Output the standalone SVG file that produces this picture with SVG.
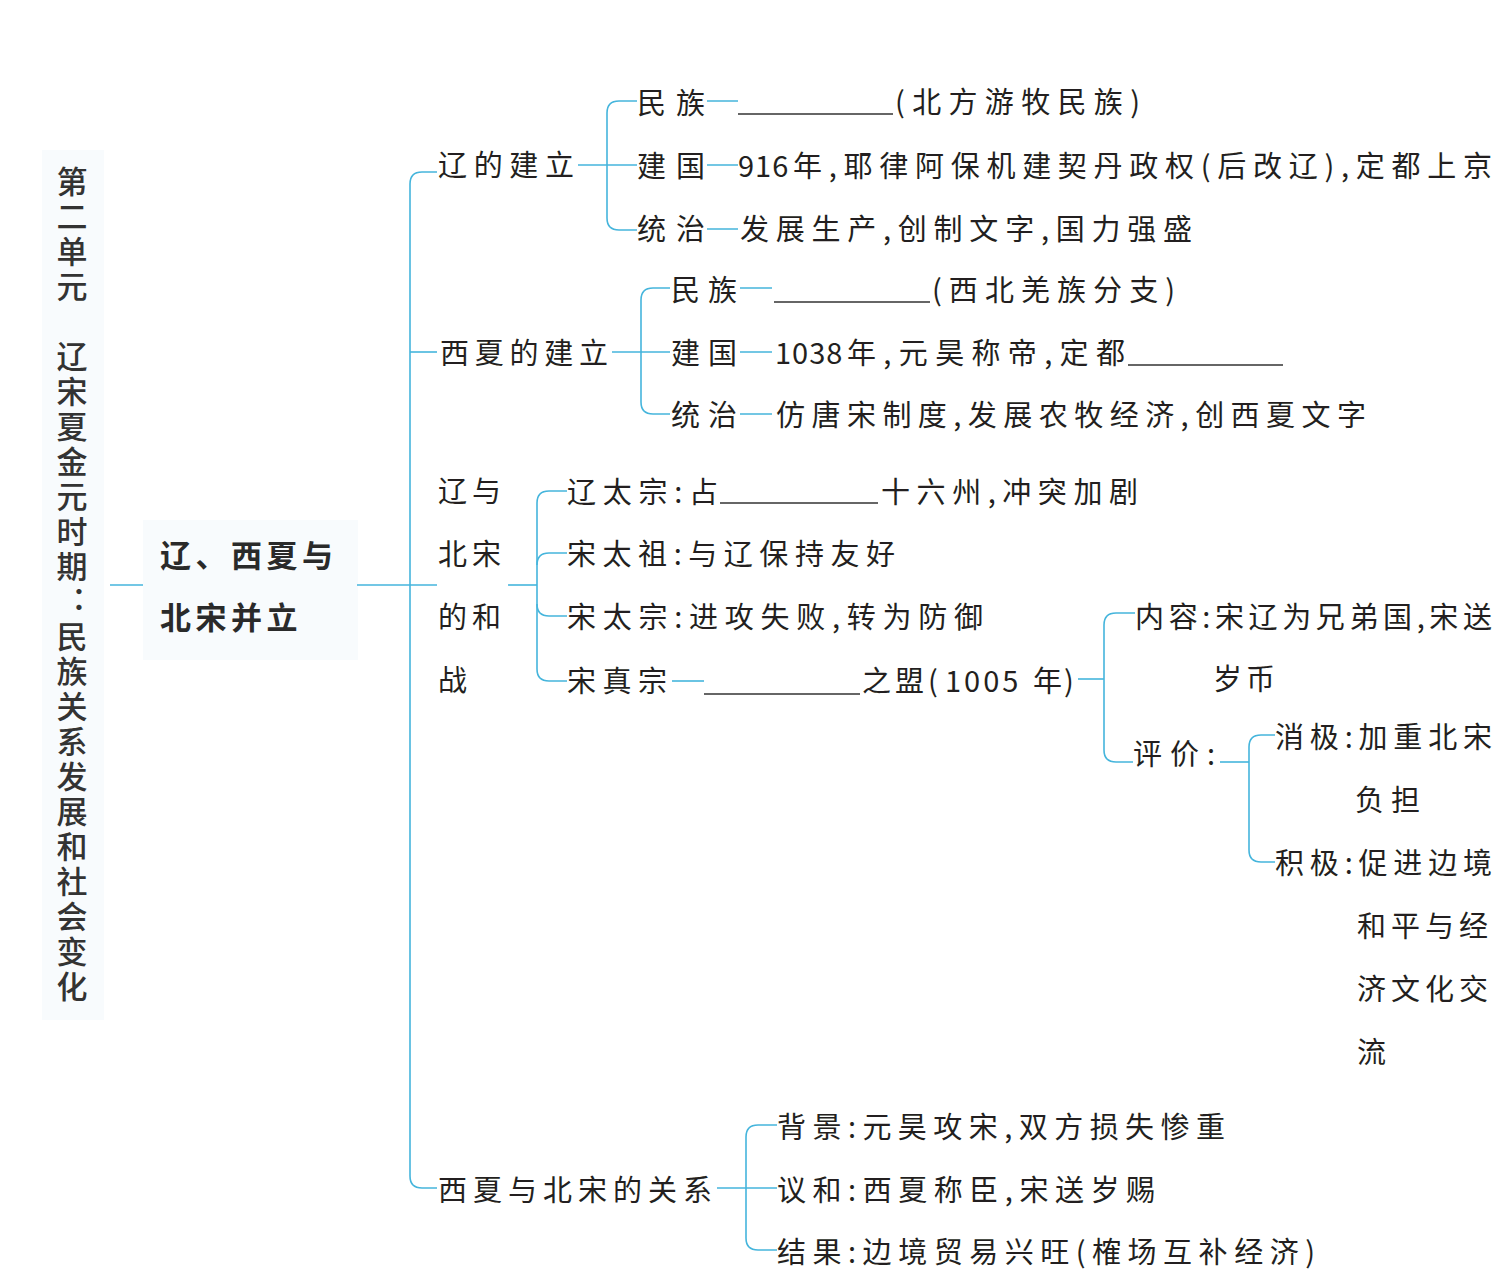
<svg xmlns="http://www.w3.org/2000/svg" width="1509" height="1278" viewBox="0 0 1509 1278">
<style>
text{font-family:"Noto Sans CJK SC","Noto Sans",sans-serif;fill:#231f20;font-size:29px;dominant-baseline:central}
.t{font-size:31px;font-weight:500;fill:#333;writing-mode:vertical-rl}
.c{font-size:31px;font-weight:700;fill:#2a2a2a}
.ln{fill:none;stroke:#45b5dc;stroke-width:1.6}
.ul{stroke:#333;stroke-width:1.5}
.bg{fill:#f8fbfd}
</style>
<rect width="1509" height="1278" fill="#fff"/>
<rect class="bg" x="42" y="150" width="62" height="870"/>
<rect class="bg" x="143" y="520" width="215" height="140"/>

<g id="connectors">
<path class="ln" d="M110,585H143"/>
<path class="ln" d="M357,585H437"/>
<path class="ln" d="M437,172H422Q410,172 410,184V1176Q410,1188 422,1188H437"/>
<path class="ln" d="M410,352H437"/>
<path class="ln" d="M637,101H619Q607,101 607,113V218Q607,230 619,230H637"/>
<path class="ln" d="M578,165H637"/>
<path class="ln" d="M707,101H738M707,165H738M707,229H738"/>
<path class="ln" d="M670,288H653Q641,288 641,300V402Q641,414 653,414H670"/>
<path class="ln" d="M612,352H670"/>
<path class="ln" d="M740,288H772M740,352H772M740,414H772"/>
<path class="ln" d="M567,491H549Q537,491 537,503V669Q537,681 549,681H567"/>
<path class="ln" d="M537,565Q537,553 549,553H567"/>
<path class="ln" d="M537,604Q537,616 549,616H567"/>
<path class="ln" d="M508,585H537"/>
<path class="ln" d="M672,681H704"/>
<path class="ln" d="M1078,679H1104"/>
<path class="ln" d="M1135,613H1116Q1104,613 1104,625V750Q1104,762 1116,762H1133"/>
<path class="ln" d="M1220,762H1249"/>
<path class="ln" d="M1275,735H1261Q1249,735 1249,747V850Q1249,862 1261,862H1275"/>
<path class="ln" d="M777,1125H758Q746,1125 746,1137V1238Q746,1250 758,1250H777"/>
<path class="ln" d="M717,1188H777"/>
</g>

<g id="title">
<text class="t" x="72" y="166" letter-spacing="4">第二单元　辽宋夏金元时期：民族关系发展和社会变化</text>
</g>

<g id="center">
<text class="c"><tspan x="160" y="553" letter-spacing="4.5">辽、西夏与</tspan><tspan x="160" y="615" letter-spacing="4.5">北宋并立</tspan></text>
</g>

<g id="liao">
<text x="438" y="163" textLength="136" lengthAdjust="spacing">辽的建立</text>
</g>
<g id="liao-minzu">
<text x="637" y="101" textLength="68" lengthAdjust="spacing">民族</text>
<line class="ul" x1="738" y1="114" x2="893" y2="114"/>
<text x="895" y="100" textLength="245" lengthAdjust="spacing">(北方游牧民族)</text>
</g>
<g id="liao-jianguo">
<text x="637" y="164" textLength="68" lengthAdjust="spacing">建国</text>
<text y="164"><tspan x="738" letter-spacing="1">916</tspan></text>
<text x="793" y="164" textLength="699" lengthAdjust="spacing">年,耶律阿保机建契丹政权(后改辽),定都上京</text>
</g>
<g id="liao-tongzhi">
<text x="637" y="227" textLength="68" lengthAdjust="spacing">统治</text>
<text x="740" y="227" textLength="452" lengthAdjust="spacing">发展生产,创制文字,国力强盛</text>
</g>

<g id="xixia">
<text x="440" y="351" textLength="168" lengthAdjust="spacing">西夏的建立</text>
</g>
<g id="xixia-minzu">
<text x="671" y="288" textLength="66" lengthAdjust="spacing">民族</text>
<line class="ul" x1="774" y1="302" x2="930" y2="302"/>
<text x="932" y="288" textLength="243" lengthAdjust="spacing">(西北羌族分支)</text>
</g>
<g id="xixia-jianguo">
<text x="671" y="351" textLength="66" lengthAdjust="spacing">建国</text>
<text y="351"><tspan x="775" letter-spacing="1">1038</tspan></text>
<text x="847" y="351" textLength="278" lengthAdjust="spacing">年,元昊称帝,定都</text>
<line class="ul" x1="1128" y1="365" x2="1283" y2="365"/>
</g>
<g id="xixia-tongzhi">
<text x="671" y="413" textLength="66" lengthAdjust="spacing">统治</text>
<text x="776" y="413" textLength="590" lengthAdjust="spacing">仿唐宋制度,发展农牧经济,创西夏文字</text>
</g>

<g id="liao-song">
<text letter-spacing="5"><tspan x="438" y="489">辽与</tspan><tspan x="438" y="552">北宋</tspan><tspan x="438" y="615">的和</tspan><tspan x="438" y="678">战</tspan></text>
</g>
<g id="liao-taizong">
<text x="567" y="490" textLength="151" lengthAdjust="spacing">辽太宗:占</text>
<line class="ul" x1="720" y1="503" x2="878" y2="503"/>
<text x="881" y="490" textLength="257" lengthAdjust="spacing">十六州,冲突加剧</text>
</g>
<g id="song-taizu">
<text x="567" y="552" textLength="328" lengthAdjust="spacing">宋太祖:与辽保持友好</text>
</g>
<g id="song-taizong">
<text x="567" y="615" textLength="416" lengthAdjust="spacing">宋太宗:进攻失败,转为防御</text>
</g>
<g id="song-zhenzong">
<text x="567" y="679" textLength="100" lengthAdjust="spacing">宋真宗</text>
<line class="ul" x1="704" y1="694" x2="860" y2="694"/>
<text y="679"><tspan x="862" letter-spacing="4">之盟(</tspan><tspan x="945" letter-spacing="3">1005</tspan><tspan x="1033">年</tspan><tspan x="1064">)</tspan></text>
</g>
<g id="neirong">
<text x="1135" y="615" textLength="357" lengthAdjust="spacing">内容:宋辽为兄弟国,宋送</text>
<text x="1213" y="677" textLength="62" lengthAdjust="spacing">岁币</text>
</g>
<g id="pingjia">
<text x="1133" y="752" textLength="82" lengthAdjust="spacing">评价:</text>
</g>
<g id="xiaoji">
<text x="1275" y="735" textLength="217" lengthAdjust="spacing">消极:加重北宋</text>
<text x="1355" y="798" textLength="65" lengthAdjust="spacing">负担</text>
</g>
<g id="jiji">
<text x="1275" y="861" textLength="217" lengthAdjust="spacing">积极:促进边境</text>
<text letter-spacing="5"><tspan x="1357" y="924">和平与经</tspan><tspan x="1357" y="987">济文化交</tspan><tspan x="1357" y="1050">流</tspan></text>
</g>

<g id="xixia-song">
<text x="438" y="1188" textLength="274" lengthAdjust="spacing">西夏与北宋的关系</text>
</g>
<g id="beijing">
<text x="777" y="1125" textLength="448" lengthAdjust="spacing">背景:元昊攻宋,双方损失惨重</text>
</g>
<g id="yihe">
<text x="777" y="1188" textLength="378" lengthAdjust="spacing">议和:西夏称臣,宋送岁赐</text>
</g>
<g id="jieguo">
<text x="777" y="1250" textLength="538" lengthAdjust="spacing">结果:边境贸易兴旺(榷场互补经济)</text>
</g>
</svg>
